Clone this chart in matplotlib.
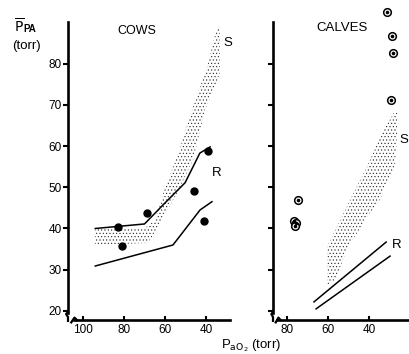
import matplotlib
matplotlib.use("Agg")
import matplotlib.pyplot as plt
from matplotlib.patches import Polygon

plt.rcParams['font.family'] = ['Liberation Sans', 'DejaVu Sans']
plt.rcParams['hatch.linewidth'] = 0.4

# ---------------- data: COWS ----------------
cows_upper_t = [94, 70, 60, 50.2, 43, 38]
cows_upper_v = [40.0, 41.1, 46.2, 51.1, 58.3, 59.8]
cows_lower_t = [94, 56.1, 42.9, 37.1]
cows_lower_v = [30.9, 36.0, 44.5, 46.5]
cows_pts_t = [82.9, 81.0, 68.8, 45.9, 41.0, 39.0]
cows_pts_v = [40.4, 35.8, 43.8, 49.1, 41.8, 58.8]
cows_S_t = [94.1, 69.8, 64.9, 60.0, 53.7, 46.8, 39.5, 34.6,
            33.2, 33.2, 35.6, 40.5, 46.3, 54.1, 66.3, 68.3, 94.1]
cows_S_v = [40.1, 40.1, 42.1, 49.9, 57.9, 68.8, 79.2, 88.9,
            88.9, 77.8, 74.4, 68.8, 56.7, 48.6, 38.0, 36.5, 36.0]

# ---------------- data: CALVES ----------------
calves_pts_t = [31.3, 29.0, 28.5, 29.5, 74.7, 76.6, 75.6, 76.1]
calves_pts_v = [92.6, 86.7, 82.6, 71.2, 46.9, 41.8, 41.4, 40.6]
calves_R1_t = [66.9, 31.9]
calves_R1_v = [22.2, 36.7]
calves_R2_t = [65.9, 30.0]
calves_R2_v = [20.5, 33.3]
calves_S_t = [60.6, 60.6, 49.4, 41.2, 33.9, 28.1, 26.6, 26.6, 27.6,
              31.5, 34.9, 39.7, 50.4, 56.7, 60.6]
calves_S_v = [26.8, 35.5, 46.9, 55.0, 63.2, 68.1, 68.1, 63.2, 55.0,
              51.3, 46.9, 43.8, 35.5, 27.5, 26.3]

yticks = [20, 30, 40, 50, 60, 70, 80]
cows_xticks = [100, 80, 60, 40]
calves_xticks = [80, 60, 40]

W, H = 409, 354
fig = plt.figure(figsize=(W / 100, H / 100), dpi=100)

def px_axes(x0, x1, y_top, y_bot):
    return fig.add_axes([x0 / W, 1 - y_bot / H, (x1 - x0) / W, (y_bot - y_top) / H])

YLIM = (17.8, 90.1)
axL = px_axes(68, 230, 22, 320)
axR = px_axes(273, 409, 22, 320)
axL.set_xlim(107.3, 28.3)
axR.set_xlim(86.8, 20.8)

for ax in (axL, axR):
    ax.set_ylim(*YLIM)
    ax.patch.set_alpha(0)
    for s in ('top', 'right'):
        ax.spines[s].set_visible(False)
    for s in ('left', 'bottom'):
        ax.spines[s].set_linewidth(1.9)
    ax.set_yticks(yticks)
    ax.tick_params(axis='y', direction='out', length=3.5, width=1.5, labelsize=8.5, pad=1)
    ax.tick_params(axis='x', direction='in', length=3, width=1.5, labelsize=8.5, pad=3)
    ax.spines['left'].set_bounds(19.6, YLIM[1])

axL.spines['bottom'].set_bounds(104.5, 28.3)
axR.spines['bottom'].set_bounds(84.8, 20.8)
axL.set_xticks(cows_xticks)
axR.set_xticks(calves_xticks)
axL.set_yticklabels([str(v) for v in yticks])
axR.set_yticklabels([])

for ax in (axL, axR):
    # y-axis break squiggle
    ax.plot([0, -0.012, 0.0, 0.0], [0.027, 0.020, 0.010, -0.003], transform=ax.transAxes,
            color='black', lw=1.6, clip_on=False)
    # x-axis break hook
    ax.plot([0.02, 0.04, 0.055], [-0.008, 0.008, 0.0], transform=ax.transAxes,
            color='black', lw=1.6, clip_on=False)

# ---- COWS ----
axL.add_patch(Polygon(list(zip(cows_S_t, cows_S_v)), closed=True, fill=False,
                      hatch='.....', edgecolor='#222222', linewidth=0))
axL.plot(cows_upper_t, cows_upper_v, color='black', lw=1.1)
axL.plot(cows_lower_t, cows_lower_v, color='black', lw=1.1)
axL.plot(cows_pts_t, cows_pts_v, 'o', color='black', ms=5, mec='black')
axL.text(73.7, 88, 'COWS', fontsize=9, ha='center', va='center')
axL.text(29.3, 85, 'S', fontsize=9.5, ha='center', va='center')
axL.text(34.6, 53.5, 'R', fontsize=9.5, ha='center', va='center')

# ---- CALVES ----
axR.add_patch(Polygon(list(zip(calves_S_t, calves_S_v)), closed=True, fill=False,
                      hatch='.....', edgecolor='#222222', linewidth=0))
axR.plot(calves_R1_t, calves_R1_v, color='black', lw=1.1)
axR.plot(calves_R2_t, calves_R2_v, color='black', lw=1.1)
axR.plot(calves_pts_t, calves_pts_v, 'o', ms=5.5, mfc='white', mec='black', mew=1.1,
         clip_on=False)
axR.plot(calves_pts_t, calves_pts_v, 'o', ms=1.6, color='black', clip_on=False)
axR.text(53.3, 88.7, 'CALVES', fontsize=9.5, ha='center', va='center')
axR.text(23.2, 61.5, 'S', fontsize=9.5, ha='center', va='center')
axR.text(26.6, 36.0, 'R', fontsize=9.5, ha='center', va='center')

# axis labels
fig.text(14 / W, 1 - 26 / H, r'$\overline{\mathrm{P}}$', fontsize=10, ha='left', va='center')
fig.text(23 / W, 1 - 29 / H, 'PA', fontsize=7, ha='left', va='center', fontweight='bold')
fig.text(12 / W, 1 - 46 / H, '(torr)', fontsize=9.5, ha='left', va='center')
fig.text(251 / W, 1 - 346 / H, r'P$_{\mathrm{aO_2}}$ (torr)', fontsize=9.5, ha='center', va='center')

fig.savefig('out.png', dpi=100)
